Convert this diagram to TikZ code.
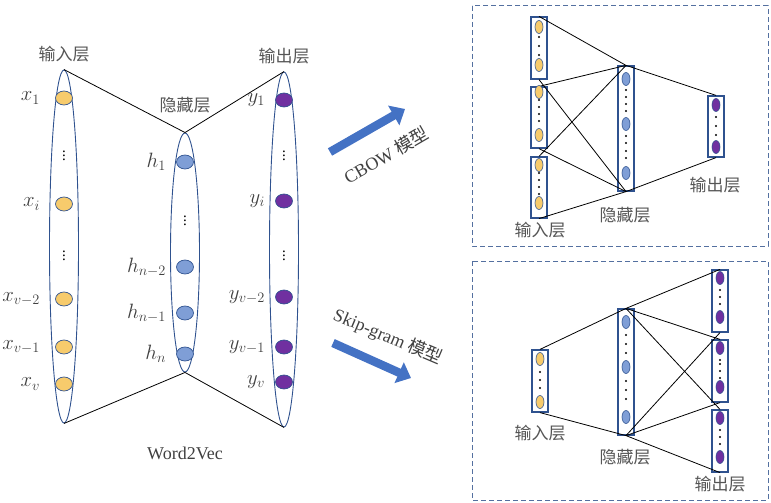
\documentclass[tikz,border=0pt]{standalone}
\usepackage{fontspec}
\setmainfont{Liberation Serif}
\newfontfamily\cjk{Noto Sans CJK SC}
\usepackage{xcolor}
\usetikzlibrary{arrows.meta,positioning,shapes.geometric}
\definecolor{EdgeBlue}{HTML}{2F528F}
\definecolor{WordYellow}{HTML}{F7CB6C}
\definecolor{HideBlue}{HTML}{7F9ED6}
\definecolor{OutPurple}{HTML}{7030A0}
\definecolor{ArrowBlue}{HTML}{4472C4}
\definecolor{BoxGrey}{HTML}{5470A0}
\definecolor{TextGrey}{HTML}{404040}
\definecolor{CnGrey}{HTML}{555555}
\tikzset{
  layer/.style={ellipse,draw=EdgeBlue,line width=0.9pt,minimum width=29pt,inner sep=0pt},
  unit/.style={ellipse,draw=EdgeBlue,line width=0.7pt,minimum width=17pt,minimum height=14pt,inner sep=0pt},
  slim/.style={ellipse,draw=EdgeBlue,line width=0.6pt,minimum width=8pt,minimum height=13pt,inner sep=0pt},
  vecbox/.style={rectangle,draw=EdgeBlue,line width=1.2pt,fill=white,minimum width=16pt,inner sep=0pt},
  link/.style={black,line width=0.8pt},
  cnlab/.style={font=\cjk\fontsize{17}{18}\selectfont,text=CnGrey,inner sep=0pt},
  mathlab/.style={font=\fontsize{22}{22}\selectfont,text=TextGrey,inner sep=0pt},
  vdotlab/.style={font=\fontsize{15}{15}\selectfont,inner sep=0pt},
  fatarrow/.style={draw=ArrowBlue,line width=8.5pt,-{Triangle[length=13pt,width=22pt]}},
  dashbox/.style={draw=BoxGrey,line width=1pt,dash pattern=on 5pt off 3pt},
  dotmark/.style={circle,fill=black,inner sep=0pt,minimum size=2.2pt}
}
\begin{document}
\begin{tikzpicture}[x=1pt,y=-1pt]
\useasboundingbox (0,0) rectangle (771,503);

% ---- Word2Vec ----
\node[layer,minimum height=353pt] (inL) at (64,246.5) {};
\node[layer,minimum height=239pt] (hidL) at (185,252.5) {};
\node[layer,minimum height=355pt] (outL) at (284,249.5) {};

\draw[link] (inL.north) -- (hidL.north) -- (outL.north);
\draw[link] (inL.south) -- (hidL.south) -- (outL.south);

\foreach \n/\y/\t in {a/98/1,b/204/i,c/299/{v-2},d/347/{v-1},e/384/v} {
  \node[unit,fill=WordYellow] (x\n) at (64,\y) {};
  \node[mathlab,anchor=east] at ([xshift=-15pt]x\n.west) {$x_{\t}$};
}
\foreach \n/\y/\t in {a/162/1,b/267/{n-2},c/313/{n-1},d/354/n} {
  \node[unit,fill=HideBlue] (h\n) at (185,\y) {};
  \node[mathlab,anchor=east] at ([xshift=-10pt]h\n.west) {$h_{\t}$};
}
\foreach \n/\y/\t in {a/100/1,b/201/i,c/297/{v-2},d/347/{v-1},e/382/v} {
  \node[unit,fill=OutPurple] (y\n) at (284,\y) {};
  \node[mathlab,anchor=east] at ([xshift=-10pt]y\n.west) {$y_{\t}$};
}
\foreach \p in {(64,153),(64,253),(185,218),(284,153),(284,253)}
  \node[vdotlab] at \p {$\vdots$};

\node[cnlab,above=7pt of inL.north] {输入层};
\node[cnlab,above=7pt of outL.north] {输出层};
\node[cnlab] at (185,105) {隐藏层};
\node[font=\fontsize{18}{18}\selectfont,text=TextGrey] (w2v) at (185,453) {Word2Vec};

% ---- arrows ----
\coordinate (cbS) at (330,152);
\coordinate (cbE) at (405,109);
\coordinate (skS) at (333,343);
\coordinate (skE) at (411,378);
\draw[fatarrow] (cbS) -- (cbE);
\draw[fatarrow] (skS) -- (skE);
\node[font=\fontsize{18}{18}\selectfont,text=TextGrey,rotate=30] at (386,155) {CBOW {\cjk 模型}};
\node[font=\fontsize{18}{18}\selectfont,text=TextGrey,rotate=-23] at (388,337) {Skip-gram {\cjk 模型}};

% ---- CBOW ----
\draw[dashbox] (472,6) rectangle (768,246);
\node[vecbox,minimum height=62pt] (ci1) at (539,48) {};
\node[vecbox,minimum height=61pt] (ci2) at (539,117.5) {};
\node[vecbox,minimum height=61pt] (ci3) at (539,187.5) {};
\node[vecbox,minimum height=125pt] (ch) at (626,128.5) {};
\node[vecbox,minimum height=61pt] (co) at (716,126.5) {};
\foreach \b in {ci1,ci2,ci3} {
  \draw[link] (\b.north) -- (ch.north);
  \draw[link] (\b.south) -- (ch.south);
}
\draw[link] (ch.north) -- (co.north);
\draw[link] (ch.south) -- (co.south);
\foreach \y in {27,65,92,135,165,203}
  \node[slim,fill=WordYellow] at (539,\y) {};
\foreach \y in {79,124,173}
  \node[slim,fill=HideBlue] at (626,\y) {};
\foreach \y in {105,147}
  \node[slim,fill=OutPurple] at (716,\y) {};
\foreach \y in {37,46,55,100,107,114,121,173,180,187,194}
  \node[dotmark] at (539,\y) {};
\foreach \y in {90,97,104,111,136,143,151,158}
  \node[dotmark] at (626,\y) {};
\foreach \y in {117,126,135}
  \node[dotmark] at (716,\y) {};
\node[cnlab] at (540,230) {输入层};
\node[cnlab] at (625,215) {隐藏层};
\node[cnlab] at (715,185) {输出层};

% ---- Skip-gram ----
\draw[dashbox] (472,261) rectangle (768,500);
\node[vecbox,minimum height=62pt] (ki) at (540,381) {};
\node[vecbox,minimum height=126pt] (kh) at (626,372) {};
\node[vecbox,minimum height=62pt] (ko1) at (720,301) {};
\node[vecbox,minimum height=62pt] (ko2) at (720,371) {};
\node[vecbox,minimum height=62pt] (ko3) at (720,441) {};
\draw[link] (ki.north) -- (kh.north);
\draw[link] (ki.south) -- (kh.south);
\foreach \b in {ko1,ko2,ko3} {
  \draw[link] (kh.north) -- (\b.north);
  \draw[link] (kh.south) -- (\b.south);
}
\foreach \y in {359,402}
  \node[slim,fill=WordYellow] at (540,\y) {};
\foreach \y in {322,367,417}
  \node[slim,fill=HideBlue] at (626,\y) {};
\foreach \y in {278,317,348,387,418,457}
  \node[slim,fill=OutPurple] at (720,\y) {};
\foreach \y in {372,380,388}
  \node[dotmark] at (540,\y) {};
\foreach \y in {335,344,353,381,390,399}
  \node[dotmark] at (626,\y) {};
\foreach \y in {290,297,304,360,364,371,378,430,437,444}
  \node[dotmark] at (720,\y) {};
\node[cnlab] at (540,433) {输入层};
\node[cnlab] at (625,457) {隐藏层};
\node[cnlab] at (720,484) {输出层};
\end{tikzpicture}
\end{document}
